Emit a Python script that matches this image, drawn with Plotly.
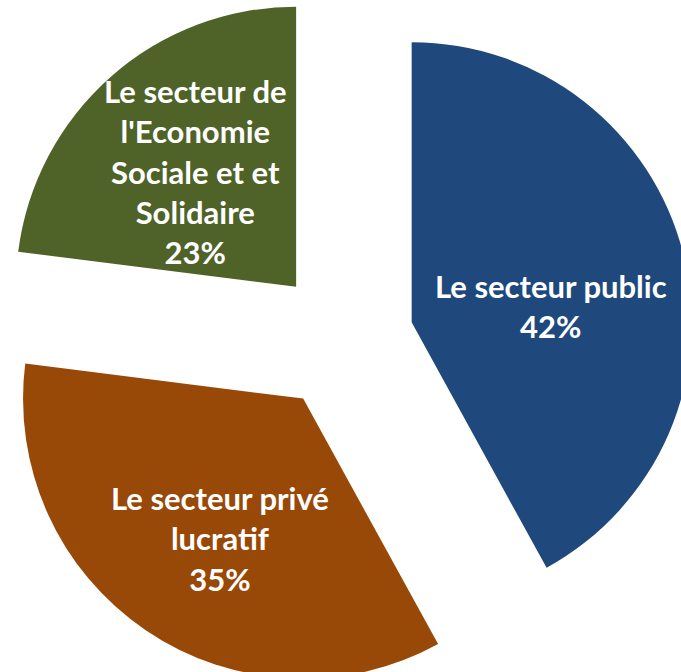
import plotly.graph_objects as go

sectors = ["Le secteur public",
           "Le secteur privé lucratif",
           "Le secteur de l'Economie Sociale et et Solidaire"]
shares = [42, 35, 23]
label_lines = [["Le secteur public"],
               ["Le secteur privé", "lucratif"],
               ["Le secteur de", "l'Economie", "Sociale et et", "Solidaire"]]
colors = ["#1F497D", "#984807", "#4F6228"]

# The chart in the reference is larger than its frame and cropped at the right
# and bottom; the figure is drawn at full size and shifted so the frame crops it.
W, H = 702, 702
SHIFT_X, SHIFT_Y = 8, 11
PULL = 0.253

fig = go.Figure(go.Pie(
    labels=sectors, values=shares, sort=False, direction="clockwise",
    rotation=0, pull=[PULL] * len(shares),
    marker=dict(colors=colors, line=dict(width=0)),
    textinfo="none", hovertemplate="%{label}<br>%{percent}<extra></extra>",
    showlegend=False, domain=dict(x=[0, 1], y=[0, 1])))

# label centres in frame pixels
label_centers = [(551, 306), (220, 538), (195, 171)]
for lines, share, (px, py) in zip(label_lines, shares, label_centers):
    fig.add_annotation(
        text="<br>".join(lines + [f"{share}%"]),
        x=(px + SHIFT_X) / W, y=1 - (py + SHIFT_Y) / H,
        xref="paper", yref="paper", showarrow=False,
        font=dict(family="Lato", size=31, color="white", weight="bold"),
        align="center", xanchor="center", yanchor="middle")

fig.update_layout(width=W, height=H, margin=dict(l=0, r=0, t=0, b=0),
                  paper_bgcolor="white", plot_bgcolor="white")

post = ("document.documentElement.style.overflow='hidden';"
        "document.body.style.margin='0';document.body.style.overflow='hidden';"
        "var gd=document.getElementById('{plot_id}');"
        "gd.style.position='absolute';"
        f"gd.style.left='-{SHIFT_X}px';gd.style.top='-{SHIFT_Y}px';")
fig.write_html("out.html", post_script=post,
               config={"displayModeBar": False})
